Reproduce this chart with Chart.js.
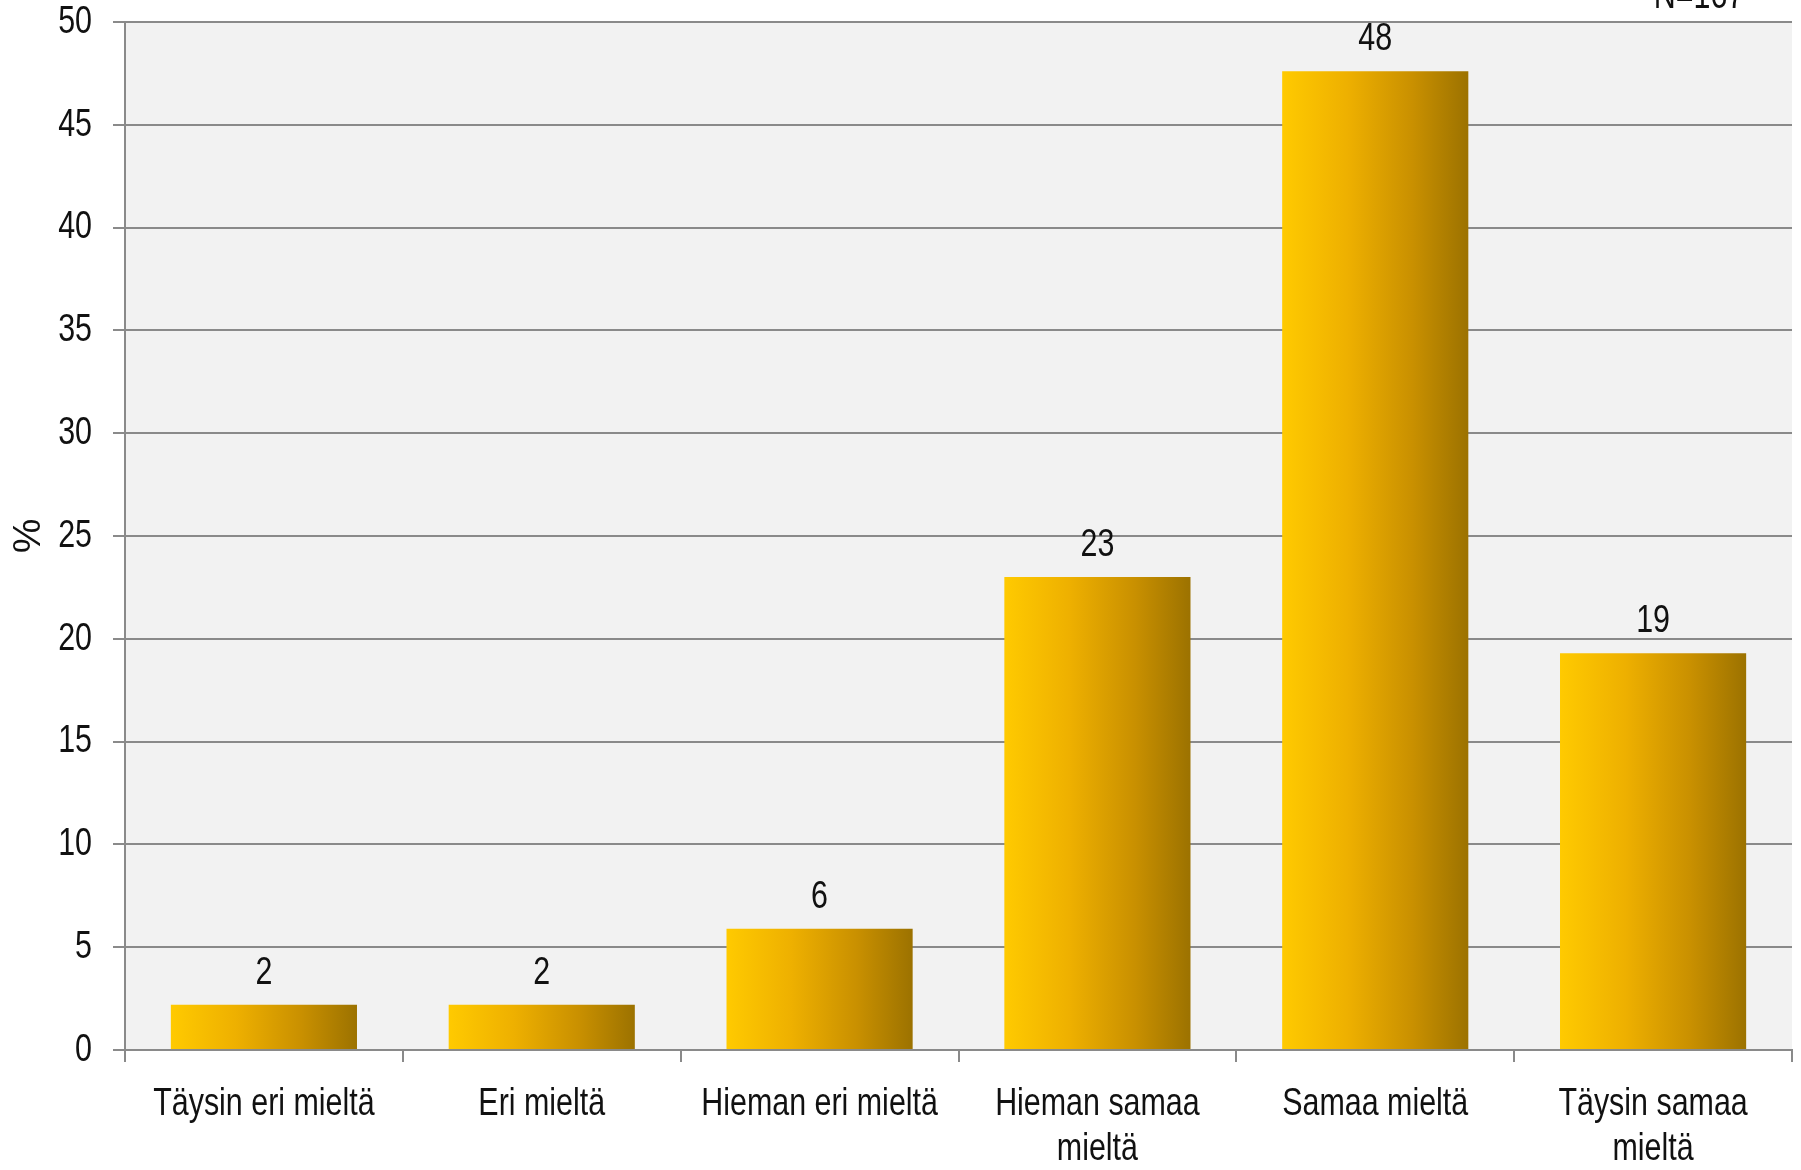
<!DOCTYPE html>
<html lang="fi">
<head>
    <meta charset="UTF-8">
    <title>Mielipidejakauma</title>
    <script src="https://cdn.jsdelivr.net/npm/chart.js@4.4.1/dist/chart.umd.min.js"></script>
    <style>
        body {
            margin: 0;
            background: #ffffff;
        }
        .chart-container {
            position: relative;
            width: 1801px;
            height: 1170px;
        }
    </style>
</head>
<body>
    <div class="chart-container">
        <canvas id="opinionChart"></canvas>
    </div>

    <script>
        // Data
        const categories = [
            'Täysin eri mieltä',
            'Eri mieltä',
            'Hieman eri mieltä',
            ['Hieman samaa', 'mieltä'],
            'Samaa mieltä',
            ['Täysin samaa', 'mieltä']
        ];
        const values = [2.2, 2.2, 5.9, 23.0, 47.6, 19.3];
        const yMin = 0;
        const yMax = 50;
        const yStep = 5;
        const sampleNote = 'N=167';
        const axisTitle = '%';

        // no narrow font installed, so text is squeezed horizontally
        const FONT = '39px "Liberation Sans", Arial, sans-serif';
        const SX = 0.78;
        const TEXT_COLOR = '#111111';
        const GRID_COLOR = '#8a8a8a';
        const BAR_PCT = 0.67;

        function barGradient(ctx) {
            const chart = ctx.chart;
            const xs = chart.scales.x;
            if (ctx.dataIndex === undefined || !xs || !xs.width) return '#e6aa00';
            const cx = xs.getPixelForValue(ctx.dataIndex);
            const w = (xs.width / categories.length) * BAR_PCT;
            const g = chart.ctx.createLinearGradient(cx - w / 2, 0, cx + w / 2, 0);
            g.addColorStop(0, '#ffca00');
            g.addColorStop(0.35, '#eeb000');
            g.addColorStop(0.7, '#c99000');
            g.addColorStop(1, '#9c7200');
            return g;
        }

        function squeezedText(ctx, text, x, y, align, baseline) {
            ctx.save();
            ctx.translate(x, y);
            ctx.scale(SX, 1);
            ctx.textAlign = align;
            ctx.textBaseline = baseline;
            ctx.fillText(text, 0, 0);
            ctx.restore();
        }

        // grey plot area, tick labels, value labels and extra texts
        const decorations = {
            id: 'decorations',
            beforeDraw(chart) {
                const { ctx, chartArea } = chart;
                ctx.save();
                ctx.fillStyle = '#f2f2f2';
                ctx.fillRect(chartArea.left, chartArea.top,
                    chartArea.right - chartArea.left, chartArea.bottom - chartArea.top);
                ctx.restore();
            },
            afterDraw(chart) {
                const { ctx, chartArea } = chart;
                const xs = chart.scales.x;
                const ys = chart.scales.y;
                ctx.save();
                ctx.fillStyle = TEXT_COLOR;
                ctx.font = FONT;

                // y tick labels
                ys.ticks.forEach(t => {
                    squeezedText(ctx, String(t.value), ys.right - 12 - 21,
                        ys.getPixelForValue(t.value), 'right', 'middle');
                });

                // category labels
                categories.forEach((lab, i) => {
                    const lines = Array.isArray(lab) ? lab : [lab];
                    const cx = xs.getPixelForValue(i);
                    lines.forEach((line, k) => {
                        squeezedText(ctx, line, cx, chartArea.bottom + 65 + k * 45, 'center', 'alphabetic');
                    });
                });

                // value labels above bars
                const meta = chart.getDatasetMeta(0);
                meta.data.forEach((bar, i) => {
                    squeezedText(ctx, String(Math.round(values[i])), bar.x, bar.y - 21, 'center', 'alphabetic');
                });

                // sample size note, cut by the top edge
                squeezedText(ctx, sampleNote, 1699, 8, 'center', 'alphabetic');

                // y axis title
                ctx.translate(29, chartArea.top + (chartArea.bottom - chartArea.top) / 2);
                ctx.rotate(-Math.PI / 2);
                ctx.textAlign = 'center';
                ctx.textBaseline = 'middle';
                ctx.fillText(axisTitle, 0, 0);
                ctx.restore();
            }
        };

        document.addEventListener('DOMContentLoaded', function() {
            new Chart(document.getElementById('opinionChart'), {
                type: 'bar',
                data: {
                    labels: categories,
                    datasets: [{
                        data: values,
                        backgroundColor: barGradient,
                        borderWidth: 0,
                        categoryPercentage: 1,
                        barPercentage: BAR_PCT
                    }]
                },
                options: {
                    responsive: true,
                    maintainAspectRatio: false,
                    animation: false,
                    layout: {
                        padding: { top: 22, right: 9, left: 0, bottom: 0 }
                    },
                    plugins: {
                        legend: { display: false },
                        tooltip: { enabled: false }
                    },
                    scales: {
                        x: {
                            grid: {
                                offset: true,
                                drawOnChartArea: false,
                                drawTicks: true,
                                tickLength: 12,
                                color: GRID_COLOR,
                                lineWidth: 2
                            },
                            border: { color: GRID_COLOR, width: 2 },
                            ticks: { display: false, autoSkip: false },
                            afterFit(scale) { scale.height = 120; }
                        },
                        y: {
                            min: yMin,
                            max: yMax,
                            grid: {
                                color: GRID_COLOR,
                                lineWidth: 2,
                                drawTicks: true,
                                tickLength: 12
                            },
                            border: { color: GRID_COLOR, width: 2 },
                            ticks: { display: false, stepSize: yStep },
                            afterFit(scale) { scale.width = 125; }
                        }
                    }
                },
                plugins: [decorations]
            });
        });
    </script>
</body>
</html>
